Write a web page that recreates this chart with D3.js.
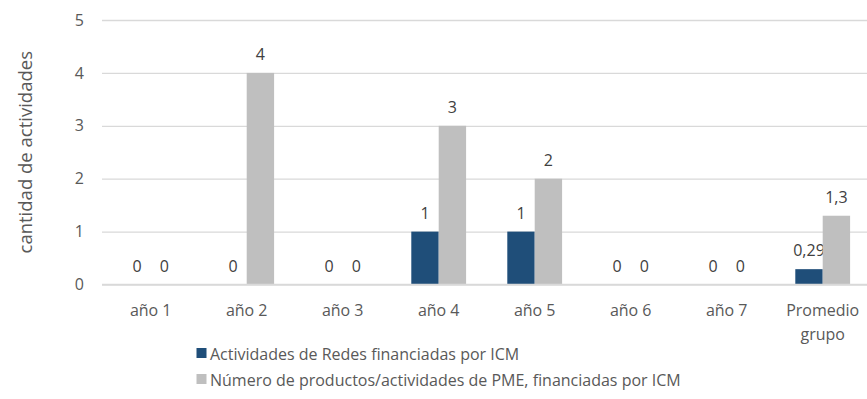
<!DOCTYPE html>
<html>
<head>
<meta charset="utf-8">
<script src="https://cdn.jsdelivr.net/npm/d3@7"></script>
<style>
  html, body { margin: 0; padding: 0; background: #ffffff; }
  svg { display: block; }
  text { font-family: "Open Sans", sans-serif; }
</style>
</head>
<body>
<svg id="chart" width="867" height="399"></svg>
<script>
// Categories along the x axis (multi-line labels split on "\n")
const categories = ["año 1", "año 2", "año 3", "año 4", "año 5", "año 6", "año 7", "Promedio\ngrupo"];
// Series values
const redes = [0, 0, 0, 1, 1, 0, 0, 0.29];
const pme = [0, 4, 0, 3, 2, 0, 0, 1.3];
// Labels printed above each bar
const redesLabels = ["0", "0", "0", "1", "1", "0", "0", "0,29"];
const pmeLabels = ["0", "4", "0", "3", "2", "0", "0", "1,3"];
const seriesNames = [
  "Actividades de Redes financiadas por ICM",
  "Número de productos/actividades de PME, financiadas por ICM"
];
const yTicks = [0, 1, 2, 3, 4, 5];
const yTitle = "cantidad de actividades";

const colors = ["#1F4E79", "#BFBFBF"];
const textColor = "#595959";
const labelColor = "#404040";
const fs = 16;

const svg = d3.select("#chart");

const x = d3.scaleBand().domain(categories).range([102.7, 870.7]);
const bar = d3.scaleBand().domain([0, 1]).range([-27.4, 27.4]);
const y = d3.scaleLinear().domain([0, 5]).range([284.5, 20]);

// Gridlines and tick labels
const yAxis = d3.axisLeft(y).tickValues(yTicks).tickSize(-(867 - 102)).tickPadding(18)
  .tickFormat(d3.format("d"));
const gy = svg.append("g").attr("transform", "translate(102,0)").call(yAxis);
gy.select(".domain").remove();
gy.selectAll(".tick line").attr("stroke", "#D9D9D9").attr("stroke-width", 1.3);
gy.selectAll(".tick text").attr("fill", textColor).attr("font-size", fs)
  .attr("font-family", "'Open Sans', sans-serif");

// Y axis title
svg.append("text")
  .attr("transform", `translate(32,${(y(0) + y(5)) / 2}) rotate(-90)`)
  .attr("text-anchor", "middle")
  .attr("fill", textColor)
  .attr("font-size", 18.5)
  .text(yTitle);

// Bars
const series = [redes, pme];
const seriesLabels = [redesLabels, pmeLabels];
series.forEach((vals, s) => {
  const g = svg.append("g");
  g.selectAll("rect").data(vals).join("rect")
    .attr("x", (d, i) => x(categories[i]) + x.bandwidth() / 2 + bar(s))
    .attr("width", bar.bandwidth())
    .attr("y", d => y(d))
    .attr("height", d => y(0) - y(d))
    .attr("fill", colors[s]);
  g.selectAll("text").data(vals).join("text")
    .attr("x", (d, i) => x(categories[i]) + x.bandwidth() / 2 + bar(s) + bar.bandwidth() / 2)
    .attr("y", d => y(d) - 13)
    .attr("text-anchor", "middle")
    .attr("fill", labelColor)
    .attr("font-size", fs)
    .text((d, i) => seriesLabels[s][i]);
});

// Baseline redrawn over the bars' bottom
svg.append("line")
  .attr("x1", 102).attr("x2", 867)
  .attr("y1", y(0)).attr("y2", y(0))
  .attr("stroke", "#D9D9D9").attr("stroke-width", 1.3);

// Category labels
const gx = svg.append("g");
categories.forEach(c => {
  const t = gx.append("text")
    .attr("x", x(c) + x.bandwidth() / 2)
    .attr("y", 316)
    .attr("text-anchor", "middle")
    .attr("fill", textColor)
    .attr("font-size", fs);
  c.split("\n").forEach((line, i) => {
    t.append("tspan").attr("x", x(c) + x.bandwidth() / 2).attr("dy", i === 0 ? 0 : 24).text(line);
  });
});

// Legend
const legend = svg.append("g");
seriesNames.forEach((name, i) => {
  const yy = 360 + i * 26;
  legend.append("rect")
    .attr("x", 196.5).attr("y", yy - 12).attr("width", 10).attr("height", 10)
    .attr("fill", colors[i]);
  legend.append("text")
    .attr("x", 210).attr("y", yy)
    .attr("fill", textColor)
    .attr("font-size", fs)
    .text(name);
});
</script>
</body>
</html>
